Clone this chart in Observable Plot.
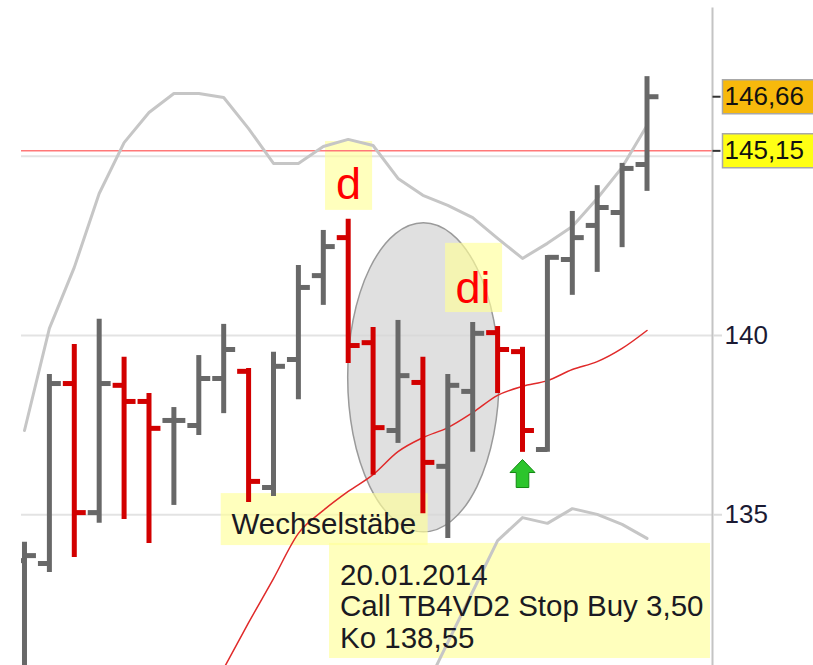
<!DOCTYPE html>
<html>
<head>
<meta charset="utf-8">
<script src="https://cdn.jsdelivr.net/npm/d3@7"></script>
<script src="https://cdn.jsdelivr.net/npm/@observablehq/plot@0.6"></script>
<style>
  body { margin: 0; background: #fff; }
  #chart svg { display: block; }
</style>
</head>
<body>
<div id="chart"></div>
<script>
// ---- data (bar index, OHLC) ----
const barIndex = [0,1,2,3,4,5,6,7,8,9,10,11,12,13,14,15,16,17,18,19,20,21,22,23,24,25];
const opens  = [133.72,133.64,138.66,135.06,138.61,138.16,137.63,137.49,138.80,139.00,135.76,139.33,141.67,142.73,139.80,137.35,138.69,136.35,138.44,140.08,139.55,136.82,142.12,143.07,143.43,144.77];
const highs  = [134.23,138.91,139.75,140.45,139.39,138.38,137.99,139.44,140.31,139.08,139.53,141.95,142.93,143.24,140.22,140.42,139.39,138.91,140.36,140.25,139.67,142.23,143.46,144.18,144.80,147.22];
const lows   = [129.82,133.39,133.81,134.76,134.87,134.20,135.26,137.21,137.82,135.34,135.51,138.21,140.84,139.22,136.10,136.99,135.03,134.34,136.74,138.38,136.74,136.74,141.12,141.76,142.45,144.02];
const closes = [133.86,138.66,135.06,138.66,138.16,137.41,137.63,138.80,139.61,135.93,139.14,141.34,142.48,139.72,137.43,138.88,136.46,138.61,140.06,139.61,137.35,142.18,142.73,143.57,144.66,146.66];

// Bollinger bands and middle band (moving average)
const bbUpper = [137.35,140.20,141.90,143.96,145.38,146.22,146.75,146.75,146.64,145.77,144.80,144.80,145.27,145.47,145.30,144.38,143.91,143.63,143.29,142.71,142.15,142.57,143.04,143.82,144.69,145.86];
const bbLower = [null,null,null,null,null,null,null,null,null,null,null,null,null,null,null,null,130.01,131.44,132.86,134.28,134.92,134.76,135.17,135.01,134.73,134.34];
const bbMid   = [null,null,null,null,null,null,null,null,130.71,131.99,133.22,134.48,135.12,135.65,136.12,136.76,137.15,137.43,137.85,138.33,138.58,138.74,139.05,139.27,139.64,140.14];

// axis ticks, grid and price markers
const yTicks = [135, 140];
const yGrid = [135, 140, 145];
const priceLevels = [146.66, 145.15];
const priceTexts = ["146,66", "145,15"];
const stopLine = [145.15];

// annotations (anchored in bar-index / price units)
const letterTexts = ["d", "di"];
const letterBar = [13.01, 18.01];
const letterPrice = [143.81, 140.92];
const letterBoxes = [
  {x1: 12.09, x2: 13.98, y1: 143.49, y2: 145.41},
  {x1: 16.91, x2: 19.20, y1: 140.64, y2: 142.57}
];
const noteBoxes = [
  {x1: 7.90, x2: 16.21, y1: 134.14, y2: 135.59},
  {x1: 12.25, x2: 27.55, y1: 130.99, y2: 134.20}
];
const wechselText = "Wechselstäbe";
const wechselAnchor = {bar: 8.31, price: 134.45};
const infoLines = ["20.01.2014", "Call TB4VD2 Stop Buy 3,50", "Ko 138,55"];
const infoAnchor = {bar: 12.67, price: 131.29};
const ellipseBox = [{x1: 13.0, x2: 19.08, y1: 134.51, y2: 143.13}];
const signalBar = [20];
const signalPrice = [136.15];

// ---- build tables ----
const FONT = '"Liberation Sans", Arial, Helvetica, sans-serif';
const rows = barIndex.map(i => ({i, open: opens[i], high: highs[i], low: lows[i], close: closes[i]}));
const up = rows.filter(d => d.close >= d.open);
const down = rows.filter(d => d.close < d.open);
const bandRows = barIndex.map(i => ({i, upper: bbUpper[i], lower: bbLower[i], mid: bbMid[i]}));
const letters = letterTexts.map((t, k) => ({t, x: letterBar[k], y: letterPrice[k]}));
const priceRows = priceLevels.map((v, k) => ({v, t: priceTexts[k]}));
const signals = signalBar.map((b, k) => ({i: b, p: signalPrice[k]}));

const GRAY = "#686868", RED = "#d20000";
const TICK = 0.46;

function ohlcMarks(data, color) {
  return [
    Plot.ruleX(data, {x: "i", y1: "low", y2: "high", stroke: color, strokeWidth: 5, clip: true}),
    Plot.link(data, {x1: d => d.i - TICK, x2: "i", y1: "open", y2: "open", stroke: color, strokeWidth: 5, clip: true}),
    Plot.link(data, {x1: "i", x2: d => d.i + TICK, y1: "close", y2: "close", stroke: color, strokeWidth: 5, clip: true})
  ];
}

const arrowSymbol = {
  draw(ctx) {
    ctx.moveTo(0, -14);
    ctx.lineTo(12.5, -1);
    ctx.lineTo(6.3, -1);
    ctx.lineTo(6.3, 14);
    ctx.lineTo(-6.3, 14);
    ctx.lineTo(-6.3, -1);
    ctx.lineTo(-12.5, -1);
    ctx.closePath();
  }
};
const labelBoxSymbol = {
  draw(ctx) { ctx.rect(0, -17, 120, 34); }
};
const tickSymbol = {
  draw(ctx) { ctx.moveTo(0, 0); ctx.lineTo(8, 0); }
};

const chart = Plot.plot({
  width: 813,
  height: 665,
  marginLeft: 21,
  marginRight: 101,
  marginTop: 0,
  marginBottom: 0,
  style: {background: "#fff", fontFamily: FONT},
  x: {type: "linear", domain: [-0.12, 27.63], axis: null},
  y: {domain: [130.795, 149.344], axis: null},
  marks: [
    Plot.ruleY(yGrid, {stroke: "#e3e3e3", strokeWidth: 2}),
    Plot.rect(ellipseBox, {x1: "x1", x2: "x2", y1: "y1", y2: "y2", rx: 2000, ry: 2000,
      fill: "#d6d6d6", fillOpacity: 0.75, stroke: "#9a9a9a", strokeWidth: 1.5}),
    Plot.rect(letterBoxes, {x1: "x1", x2: "x2", y1: "y1", y2: "y2", fill: "#ffff99", fillOpacity: 0.65}),
    Plot.rect(noteBoxes, {x1: "x1", x2: "x2", y1: "y1", y2: "y2", fill: "#ffff99", fillOpacity: 0.65}),
    Plot.ruleY(stopLine, {stroke: "#ff7878", strokeWidth: 1.5}),
    Plot.line(bandRows, {x: "i", y: "upper", stroke: "#c6c6c6", strokeWidth: 3, clip: true}),
    Plot.line(bandRows, {x: "i", y: "lower", stroke: "#c6c6c6", strokeWidth: 3, clip: true}),
    Plot.line(bandRows, {x: "i", y: "mid", stroke: "#e02a2a", strokeWidth: 1.5, curve: "monotone-x", clip: true}),
    ...ohlcMarks(up, GRAY),
    ...ohlcMarks(down, RED),
    Plot.dot(signals, {x: "i", y: "p", symbol: arrowSymbol, r: 5, fill: "#2cc52c", stroke: "#138a13", strokeWidth: 1}),
    Plot.text(letters, {x: "x", y: "y", text: "t", fontSize: 45, fill: "#ff0000", textAnchor: "middle", lineAnchor: "bottom", fontFamily: FONT}),
    Plot.text([wechselText], {x: () => wechselAnchor.bar, y: () => wechselAnchor.price, text: d => d,
      fontSize: 29.5, fill: "#1a1a22", textAnchor: "start", lineAnchor: "bottom", fontFamily: FONT}),
    Plot.text([infoLines.join("\n")], {x: () => infoAnchor.bar, y: () => infoAnchor.price, text: d => d,
      fontSize: 29.5, lineHeight: 1.07, fill: "#1a1a22", textAnchor: "start", lineAnchor: "bottom", fontFamily: FONT}),
    Plot.frame({anchor: "right", stroke: "#c4c4c4", strokeWidth: 2, insetTop: 8}),
    Plot.axisY({ticks: yTicks, anchor: "right", tickSize: 9, tickPadding: 3, fontSize: 26,
      stroke: "#dcdcdc", strokeWidth: 2, fill: "#1a1a33", label: null, fontFamily: FONT}),
    Plot.dot(priceRows.slice(0, 1), {y: "v", frameAnchor: "right", dx: 10, symbol: labelBoxSymbol, r: 5,
      fill: "#f7b90c", stroke: "#a8a8a8", strokeWidth: 1.5}),
    Plot.dot(priceRows.slice(1), {y: "v", frameAnchor: "right", dx: 10, symbol: labelBoxSymbol, r: 5,
      fill: "#ffff14", stroke: "#a8a8a8", strokeWidth: 1.5}),
    Plot.dot(priceRows, {y: "v", frameAnchor: "right", symbol: tickSymbol, r: 5, stroke: "#333", strokeWidth: 2}),
    Plot.text(priceRows, {y: "v", text: "t", frameAnchor: "right", dx: 12, textAnchor: "start", fontSize: 26,
      fill: "#111", fontFamily: FONT})
  ]
});
document.getElementById("chart").appendChild(chart);
</script>
</body>
</html>
